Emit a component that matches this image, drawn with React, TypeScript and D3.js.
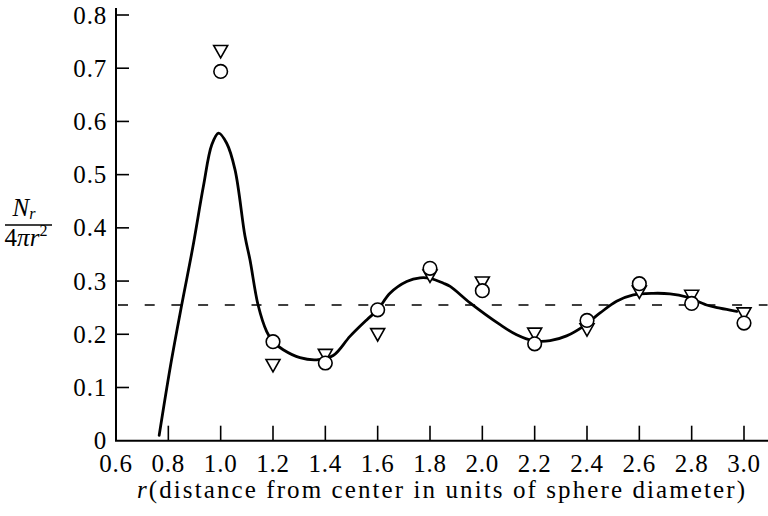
import React from "react";
import * as d3 from "d3";

const W = 768;
const H = 516;

const xTicks = [0.6, 0.8, 1.0, 1.2, 1.4, 1.6, 1.8, 2.0, 2.2, 2.4, 2.6, 2.8, 3.0];
const yTicks = [0, 0.1, 0.2, 0.3, 0.4, 0.5, 0.6, 0.7, 0.8];

const pointX = [1.0, 1.2, 1.4, 1.6, 1.8, 2.0, 2.2, 2.4, 2.6, 2.8, 3.0];
const circleY = [0.694, 0.186, 0.146, 0.246, 0.324, 0.282, 0.182, 0.226, 0.295, 0.258, 0.221];
const triangleY = [0.731, 0.141, 0.16, 0.199, 0.309, 0.296, 0.2, 0.208, 0.279, 0.271, 0.238];

const curveX = [
  0.765, 0.808, 0.851, 0.893, 0.934, 0.966, 0.992, 1.023, 1.055, 1.093, 1.112,
  1.143, 1.176, 1.2, 1.239, 1.303, 1.367, 1.43, 1.494, 1.558, 1.6, 1.647, 1.711, 1.762,
  1.8, 1.851, 1.877, 1.953, 2.068, 2.131, 2.195, 2.259, 2.322, 2.386, 2.45, 2.513, 2.577,
  2.653, 2.717, 2.781, 2.857, 2.908, 2.972,
];
const curveY = [
  0.01, 0.14, 0.255, 0.362, 0.478, 0.556, 0.578, 0.559, 0.509, 0.384, 0.34,
  0.255, 0.205, 0.186, 0.171, 0.156, 0.152, 0.16, 0.196, 0.227, 0.246, 0.277, 0.299, 0.306,
  0.305, 0.296, 0.29, 0.259, 0.218, 0.199, 0.188, 0.188, 0.197, 0.215, 0.24, 0.262, 0.274,
  0.277, 0.276, 0.27, 0.255, 0.249, 0.243,
];

const referenceLevel = 0.255;
const dashEnd = 3.09;

const FONT = "Liberation Serif, DejaVu Serif, serif";

export default function App() {
  const x = d3.scaleLinear().domain([0.6, 3.0]).range([116, 744]);
  const y = d3.scaleLinear().domain([0, 0.8]).range([440.7, 15]);

  const line = d3
    .line<number>()
    .x((_, i) => x(curveX[i]))
    .y((_, i) => y(curveY[i]))
    .curve(d3.curveCatmullRom.alpha(0.5));
  const curvePath = line(curveX) || "";

  const tri = (cx: number, cy: number) => {
    const hw = 7;
    const hh = 6.2;
    return `M${cx - hw},${cy - hh}L${cx + hw},${cy - hh}L${cx},${cy + hh}Z`;
  };

  const x0 = x(0.6);
  const y0 = y(0);

  return (
    <svg
      width={W}
      height={H}
      viewBox={`0 0 ${W} ${H}`}
      style={{ position: "absolute", left: 0, top: 0, background: "#fff" }}
    >
      <rect x={0} y={0} width={W} height={H} fill="#fff" />
      {/* axes */}
      <line x1={x0} y1={y0} x2={x0} y2={8} stroke="#000" strokeWidth={2} />
      <line x1={x0 - 1} y1={y0} x2={768} y2={y0} stroke="#000" strokeWidth={2} />
      {yTicks.slice(1).map((t) => (
        <line key={"yt" + t} x1={x0} x2={x0 + 13} y1={y(t)} y2={y(t)} stroke="#000" strokeWidth={1.6} />
      ))}
      {xTicks.slice(1).map((t) => (
        <line key={"xt" + t} x1={x(t)} x2={x(t)} y1={y0} y2={y0 - 15} stroke="#000" strokeWidth={1.6} />
      ))}
      {yTicks.map((t) => (
        <text
          key={"yl" + t}
          x={107}
          y={y(t)}
          dy="0.34em"
          textAnchor="end"
          fontSize={25}
          letterSpacing={0.8}
          fontFamily={FONT}
        >
          {t === 0 ? "0" : t.toFixed(1)}
        </text>
      ))}
      {xTicks.map((t) => (
        <text key={"xl" + t} x={x(t)} y={472} textAnchor="middle" fontSize={25} letterSpacing={0.8} fontFamily={FONT}>
          {t.toFixed(1)}
        </text>
      ))}
      {/* x title */}
      <text x={137} y={498} fontSize={25} textLength={608} lengthAdjust="spacing" fontFamily={FONT}>
        <tspan fontStyle="italic">r</tspan>(distance from center in units of sphere diameter)
      </text>
      {/* y title fraction */}
      <text x={24} y={216} textAnchor="middle" fontSize={25} fontFamily={FONT}>
        <tspan fontStyle="italic">N</tspan>
        <tspan fontStyle="italic" fontSize={16} dy={3}>r</tspan>
      </text>
      <line x1={5} x2={52} y1={225} y2={225} stroke="#000" strokeWidth={1.3} />
      <text x={26} y={246} textAnchor="middle" fontSize={25} fontFamily={FONT}>
        4<tspan fontStyle="italic">πr</tspan>
        <tspan fontSize={16} dy={-10}>2</tspan>
      </text>
      {/* dashed reference */}
      <line
        x1={x0 + 2}
        x2={x(dashEnd)}
        y1={y(referenceLevel)}
        y2={y(referenceLevel)}
        stroke="#000"
        strokeWidth={1.3}
        strokeDasharray="10 16.7"
      />
      {/* curve */}
      <path d={curvePath} fill="none" stroke="#000" strokeWidth={2.8} strokeLinejoin="round" strokeLinecap="round" />
      {/* triangles */}
      {pointX.map((px, i) => (
        <path key={"tr" + i} d={tri(x(px), y(triangleY[i]))} fill="#fff" stroke="#000" strokeWidth={1.6} />
      ))}
      {/* circles */}
      {pointX.map((px, i) => (
        <circle key={"c" + i} cx={x(px)} cy={y(circleY[i])} r={6.8} fill="#fff" stroke="#000" strokeWidth={1.6} />
      ))}
    </svg>
  );
}
